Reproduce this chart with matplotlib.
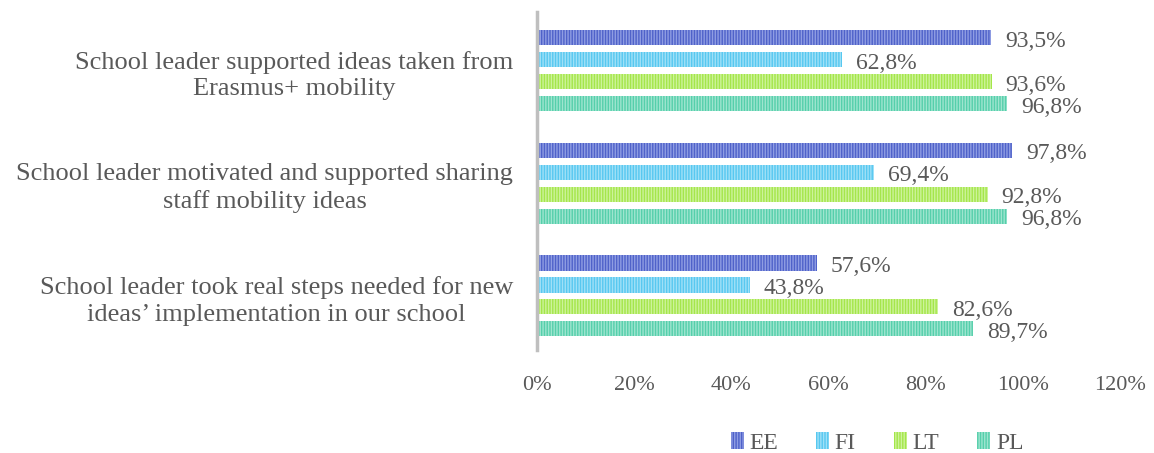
import numpy as np
import matplotlib.pyplot as plt

plt.rcParams['font.family'] = ['Liberation Serif', 'DejaVu Serif']
plt.rcParams['hatch.linewidth'] = 1.0

categories = [
    "School leader took real steps needed for new\nideas\u2019 implementation in our school",
    "School leader motivated and supported sharing\nstaff mobility ideas",
    "School leader supported ideas taken from\nErasmus+ mobility",
]
countries = ["EE", "FI", "LT", "PL"]
ee = [57.6, 97.8, 93.5]
fi = [43.8, 69.4, 62.8]
lt = [82.6, 92.8, 93.6]
pl = [89.7, 96.8, 96.8]
xticks = [0, 20, 40, 60, 80, 100, 120]

series = [ee, fi, lt, pl]
faces = ['#4f62c9', '#57c8f0', '#a4e64a', '#55cfab']
stripes = ['#8f9de3', '#9fe0f7', '#cdf39a', '#9ee5cf']
text_col = '#595959'

fig = plt.figure(figsize=(11.54, 4.53), dpi=100)
ax = fig.add_axes([0.4653, 0.2274, 0.5052, 0.7461])

y = np.arange(len(categories))
step = 0.195
h = 0.135
for i, (vals, name) in enumerate(zip(series, countries)):
    pos = y + (1.5 - i) * step
    bars = ax.barh(pos, vals, height=h, color=faces[i], edgecolor=stripes[i],
                   hatch='||||||', linewidth=0, label=name)
    labels = [f"{v:.1f}%".replace('.', ',') for v in vals]
    for yy, v, lab in zip(pos, vals, labels):
        ax.annotate(lab, (v, yy), xytext=(10, -2.5), textcoords='offset points',
                    fontsize=17, color=text_col, va='center', ha='left')

ax.set_xlim(0, 120)
ax.set_ylim(-0.48, 2.52)
ax.set_xticks(xticks)
ax.set_xticklabels([f"{t}%" for t in xticks], fontsize=16, color=text_col)
ax.set_yticks(y)
ax.set_yticklabels(categories, fontsize=19, color=text_col, ha='right',
                   multialignment='center', linespacing=1.28)
ax.tick_params(axis='y', length=0, pad=17)
ax.tick_params(axis='x', length=0, pad=19)
for s in ['top', 'right', 'bottom']:
    ax.spines[s].set_visible(False)
ax.spines['left'].set_color('#bfbfbf')
ax.spines['left'].set_linewidth(2.5)

fig.legend(loc='center', bbox_to_anchor=(0.76, 0.022), ncol=4, frameon=False,
           fontsize=17, labelcolor=text_col, handlelength=0.55, handleheight=0.7,
           columnspacing=1.6, handletextpad=0.25)

fig.savefig('out.png', dpi=100)
